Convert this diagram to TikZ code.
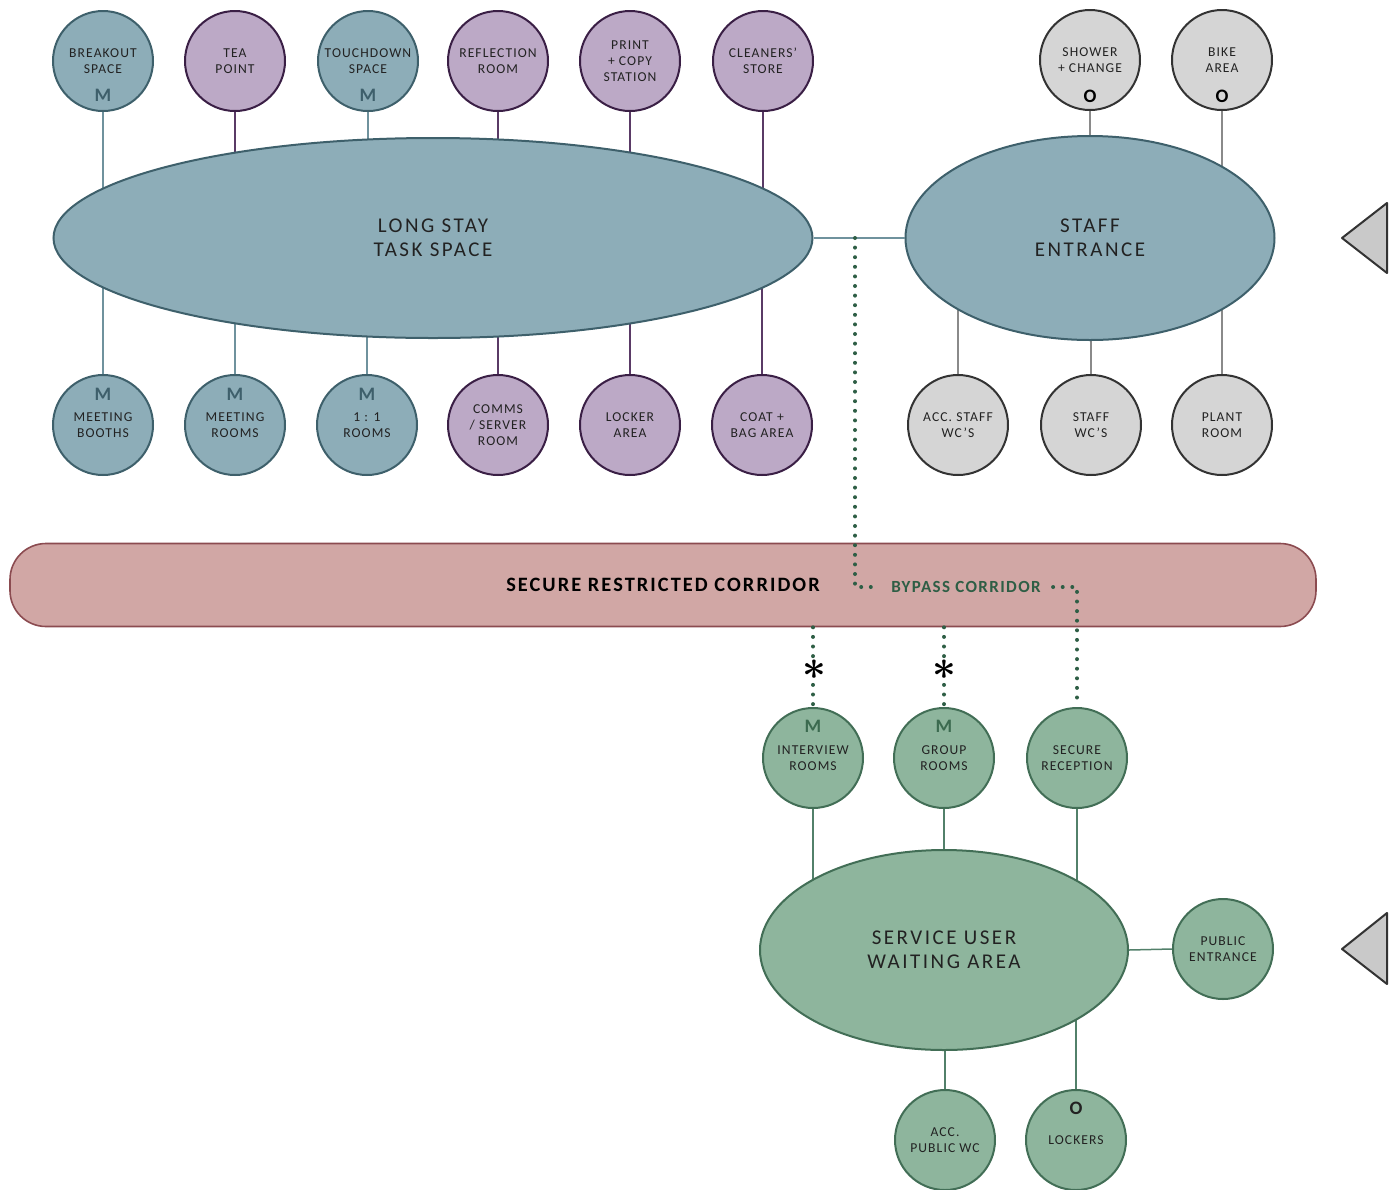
\documentclass[tikz,border=0pt]{standalone}
\usepackage{fontspec}
\setmainfont{Carlito}[LetterSpace=8]
\newfontfamily\widefont{Carlito}[LetterSpace=12]
\newfontfamily\corfont{Carlito}[LetterSpace=10]
\usetikzlibrary{shapes.geometric,backgrounds,calc}
\definecolor{bluefill}{HTML}{8DADB8}
\definecolor{blueline}{HTML}{3E606B}
\definecolor{bluelink}{HTML}{6F929D}
\definecolor{bluem}{HTML}{3E5F6B}
\definecolor{purfill}{HTML}{BCA9C6}
\definecolor{purline}{HTML}{3A1F45}
\definecolor{purlink}{HTML}{5A3A66}
\definecolor{greyfill}{HTML}{D5D5D5}
\definecolor{greyline}{HTML}{333333}
\definecolor{greylink}{HTML}{8A8A8A}
\definecolor{grnfill}{HTML}{8EB59D}
\definecolor{grnline}{HTML}{426E56}
\definecolor{grnlink}{HTML}{52806A}
\definecolor{grnm}{HTML}{3B6A4F}
\definecolor{corfill}{HTML}{D1A7A5}
\definecolor{corline}{HTML}{8B4B50}
\definecolor{dotc}{HTML}{2E5E45}
\definecolor{txt}{HTML}{222222}
\definecolor{trifill}{HTML}{C9C9C9}
\tikzset{
  room/.style={circle, minimum size=50pt, inner sep=0pt, line width=1pt,
    font=\fontsize{6.8}{8}\selectfont, align=center, text=txt},
  bluer/.style={room, fill=bluefill, draw=blueline},
  purr/.style={room, fill=purfill, draw=purline},
  greyr/.style={room, fill=greyfill, draw=greyline},
  grnr/.style={room, fill=grnfill, draw=grnline},
  bigell/.style={ellipse, inner sep=0pt, line width=1pt, align=center, text=txt,
    font=\widefont\fontsize{10.5}{12}\selectfont},
  mk/.style={font=\fontsize{9.5}{10}\selectfont\bfseries, inner sep=0pt},
  link/.style={line width=0.75pt},
  dots/.style={draw=dotc, line width=2pt, dash pattern=on 0pt off 4.8pt, line cap=round},
  tri/.style={fill=trifill, draw=greyline, line width=1pt, line join=round},
  starmark/.style={fill=white, inner sep=0.5pt, text=black, font=\boldmath\fontsize{21}{21}\selectfont},
}
\begin{document}
\begin{tikzpicture}[x=0.5pt,y=-0.5pt]
\useasboundingbox (0,0) rectangle (1394,1190);

% ---- long stay group
\node[bigell, fill=bluefill, draw=blueline, minimum width=379.5pt, minimum height=100pt] (ls) at (433,238) {LONG STAY\\TASK SPACE};
\node[bigell, fill=bluefill, draw=blueline, minimum width=184.5pt, minimum height=102pt] (se) at (1090,238) {STAFF\\ENTRANCE};

\node[bluer] (bo) at (103,61) {BREAKOUT\\SPACE};
\node[mk, text=bluem] (bom) at (103,95) {M};
\node[purr] (tea) at (235,61) {TEA\\POINT};
\node[bluer] (td) at (368,61) {TOUCHDOWN\\SPACE};
\node[mk, text=bluem] (tdm) at (368,95) {M};
\node[purr] (refl) at (498,61) {REFLECTION\\ROOM};
\node[purr] (print) at (630,61) {PRINT\\+ COPY\\STATION};
\node[purr] (clean) at (763,61) {CLEANERS’\\STORE};
\node[greyr] (shower) at (1090,60) {SHOWER\\+ CHANGE};
\node[mk, text=black] (showero) at (1090,96) {O};
\node[greyr] (bike) at (1222,60) {BIKE\\AREA};
\node[mk, text=black] (bikeo) at (1222,96) {O};

\node[bluer] (mb) at (103,425) {MEETING\\BOOTHS};
\node[mk, text=bluem] (mbm) at (103,394) {M};
\node[bluer] (mr) at (235,425) {MEETING\\ROOMS};
\node[mk, text=bluem] (mrm) at (235,394) {M};
\node[bluer] (oo) at (367,425) {1 : 1\\ROOMS};
\node[mk, text=bluem] (oom) at (367,394) {M};
\node[purr] (comms) at (498,425) {COMMS\\/ SERVER\\ROOM};
\node[purr] (locker) at (630,425) {LOCKER\\AREA};
\node[purr] (coat) at (762,425) {COAT +\\BAG AREA};
\node[greyr] (accs) at (958,425) {ACC. STAFF\\WC’S};
\node[greyr] (swc) at (1091,425) {STAFF\\WC’S};
\node[greyr] (plant) at (1222,425) {PLANT\\ROOM};

% ---- corridor
\node[rectangle, rounded corners=18pt, fill=corfill, draw=corline, line width=0.8pt,
  minimum width=653pt, minimum height=41.5pt, inner sep=0pt, text=black,
  font=\corfont\fontsize{10.2}{12}\selectfont\bfseries] (cor) at (663,585) {SECURE RESTRICTED CORRIDOR};

% ---- service user group
\node[bigell, fill=grnfill, draw=grnline, minimum width=184pt, minimum height=100pt] (su) at (944,950) {SERVICE USER\\WAITING AREA};
\node[grnr] (int) at (813,758) {INTERVIEW\\ROOMS};
\node[mk, text=grnm] (intm) at (813,726) {M};
\node[grnr] (grp) at (944,758) {GROUP\\ROOMS};
\node[mk, text=grnm] (grpm) at (944,726) {M};
\node[grnr] (rec) at (1077,758) {SECURE\\RECEPTION};
\node[grnr] (pub) at (1223,949) {PUBLIC\\ENTRANCE};
\node[grnr] (apw) at (945,1140) {ACC.\\PUBLIC WC};
\node[grnr] (lock) at (1076,1140) {LOCKERS};
\node[mk, text=txt] (locko) at (1076,1108) {O};

% ---- entrance triangles
\draw[tri] (1342,238) -- (1387,203) -- (1387,273) -- cycle;
\draw[tri] (1342,949) -- (1387,913) -- (1387,984) -- cycle;

% ---- connectors
\begin{scope}[on background layer]
  \foreach \n in {bo,td,mb,mr,oo} \draw[link, draw=bluelink] (\n) -- (\n |- ls.center);
  \foreach \n in {tea,refl,print,clean,comms,locker,coat} \draw[link, draw=purlink] (\n) -- (\n |- ls.center);
  \foreach \n in {shower,bike,accs,swc,plant} \draw[link, draw=greylink] (\n) -- (\n |- se.center);
  \foreach \n in {int,grp,rec,apw,lock} \draw[link, draw=grnlink] (\n) -- (\n |- su.center);
  \draw[link, draw=grnlink] (su.east) -- (pub.west);
\end{scope}
\draw[link, draw=bluelink] (ls.east) -- (se.west);

% ---- dotted routes
\coordinate (bp0) at (855,238);
\node[inner sep=6pt, text=dotc, font=\fontsize{8.5}{10}\selectfont\bfseries] (byp) at (966,587) {BYPASS CORRIDOR};
\draw[dots] (bp0) |- (byp.west);
\draw[dots] (byp.east) -| (rec.north);
\draw[dots] (cor.south -| int.north) -- (int.north);
\draw[dots] (cor.south -| grp.north) -- (grp.north);
\node[starmark] (st1) at (814,670) {$\ast$};
\node[starmark] (st2) at (944,670) {$\ast$};
\end{tikzpicture}
\end{document}
